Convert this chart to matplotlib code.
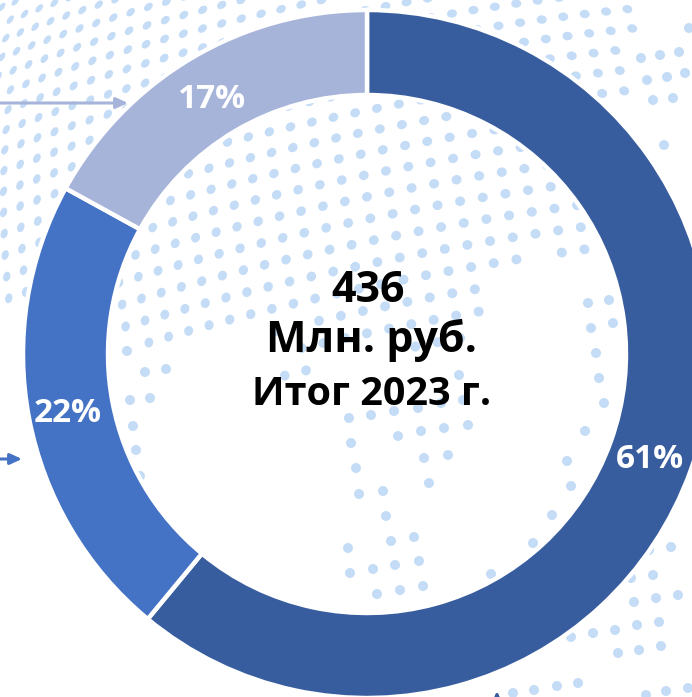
import numpy as np
import matplotlib
matplotlib.use("Agg")
import matplotlib.pyplot as plt
from matplotlib.collections import EllipseCollection
from matplotlib.path import Path

# chart data
shares = [61, 22, 17]
ring_colors = ["#385D9F", "#4472C4", "#A6B4DA"]
centre_lines = ["436", "Млн. руб.", "Итог 2023 г."]

# decorative backdrop (pixel positions of the loose map dots)
loose_x = [641,660,679,647,667,685,653,673,664,689,588,609,591,613,596,599,604,585,567,571,552,533,491,
           351,356,359,383,386,391,414,348,350,373,395,419,377,400,423,424,448,429,398,421,444,468,459,
           349,371,394,418,441,463,671,649,653,631,678,656,634,659,637,615,593,571,661,639,618,
           578,557,534,513,688,666,646,127,145,166,130,150,133,136,140]
loose_y = [58,55,52,80,77,73,100,98,145,28,303,300,328,323,353,378,403,431,461,486,515,543,574,
           443,468,494,491,516,541,537,548,573,569,565,561,594,590,586,458,455,483,436,431,428,425,375,
           418,415,411,408,403,400,547,550,575,578,595,598,602,622,625,630,633,637,646,650,653,
           683,686,690,693,688,691,695,351,372,369,400,398,426,450,476]
land_outline = [(-5,-5),(635,-5),(635,95),(592,95),(592,270),(545,250),(500,278),(482,312),(482,345),
                (340,352),(285,385),(280,345),(268,322),(222,328),(195,352),(165,348),(122,340),(112,305),(-5,302)]

W, H = 692, 697
fig = plt.figure(figsize=(W/100, H/100), dpi=100)
ax = fig.add_axes([0, 0, 1, 1])
ax.set_facecolor("white")
dot_color = "#C4DCF6"

# globe lattice for the dense part of the dotted map
cx, cy, R = 520.0, 420.0, 750.0
step = 23.0 / R
phi0 = np.radians(-14.0)
roll = np.radians(9.5)
lats = np.arange(-60, 60) * step
lons = np.arange(-60, 60) * step
lon, lat = np.meshgrid(lons, lats)
X = np.cos(lat) * np.sin(lon)
Y = np.cos(phi0) * np.sin(lat) - np.sin(phi0) * np.cos(lat) * np.cos(lon)
Z = np.sin(phi0) * np.sin(lat) + np.cos(phi0) * np.cos(lat) * np.cos(lon)
front = Z > 0
xr = X * np.cos(roll) - Y * np.sin(roll)
yr = X * np.sin(roll) + Y * np.cos(roll)
px = cx + R * xr
py = cy - R * yr
mask = front & Path(land_outline).contains_points(np.c_[px.ravel(), py.ravel()]).reshape(px.shape)
gx, gy = px[mask], py[mask]
d = np.hypot(gx - cx, gy - cy) / R
squash = np.sqrt(np.clip(1 - d**2, 0.25, 1))
angle = np.degrees(np.arctan2(-(gy - cy), gx - cx)) + 90

base = 10.0
all_x = np.r_[gx, loose_x]
all_y = np.r_[H - gy, H - np.array(loose_y)]
widths = np.r_[np.full(gx.size, base), np.full(len(loose_x), base)]
heights = np.r_[base * squash, np.full(len(loose_x), base)]
angles = np.r_[angle + 90, np.zeros(len(loose_x))]
dots = EllipseCollection(heights, widths, angles, units="xy", offsets=np.c_[all_x, all_y],
                         transOffset=ax.transData, facecolors=dot_color, edgecolors="none", zorder=1)
ax.add_collection(dots)

# ring
ax.pie(shares, colors=ring_colors, startangle=90, counterclock=False, center=(367, H - 354), radius=344,
       wedgeprops=dict(width=85, edgecolor="white", linewidth=3.2, zorder=3), frame=True)
ax.set_xlim(0, W)
ax.set_ylim(0, H)
ax.set_aspect("equal")
ax.axis("off")

# share labels
label_font = dict(family="Open Sans", fontweight="bold", fontsize=24, color="white", ha="center", va="center", zorder=5)
label_pos = [(650, 459), (68, 414), (212, 99)]
for v, (lx, ly) in zip(shares, label_pos):
    ax.text(lx, H - ly, f"{v}%", **label_font)

# centre text
line_x = [368.5, 372, 371.5]
line_base = [302, 352, 405]
line_size = [31, 31, 28.5]
for s, x, b, fs in zip(centre_lines, line_x, line_base, line_size):
    ax.text(x, H - b, s, family="Open Sans", fontweight="bold",
            fontsize=fs, color="black", ha="center", va="baseline", zorder=5)

# arrows
def arrow(p0, p1, c):
    ax.annotate("", xy=(p1[0], H - p1[1]), xytext=(p0[0], H - p0[1]),
                arrowprops=dict(arrowstyle="-|>,head_width=0.32,head_length=0.7", color=c, lw=2.2,
                                shrinkA=0, shrinkB=0), zorder=4, annotation_clip=False)
arrow((0, 103), (128, 103), "#A6B4DA")
arrow((0, 459), (22, 459), "#4472C4")
arrow((497, 712), (497, 691), "#385D9F")

fig.savefig("out.png", dpi=100, facecolor="white")
